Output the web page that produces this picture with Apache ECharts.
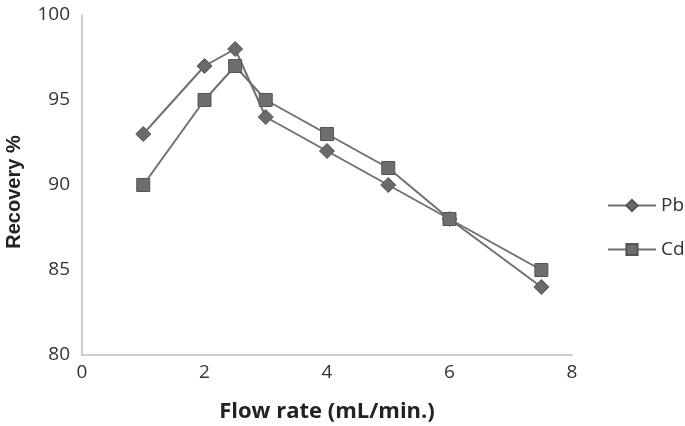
<!DOCTYPE html>
<html>
<head>
<meta charset="utf-8">
<script src="https://cdn.jsdelivr.net/npm/echarts@6/dist/echarts.min.js"></script>
<style>
  html, body { margin: 0; padding: 0; background: #fff; }
  #chart { width: 685px; height: 426px; }
</style>
</head>
<body>
<div id="chart"></div>
<script>
// flow rate (mL/min.) vs recovery %
let flowRate = [1, 2, 2.5, 3, 4, 5, 6, 7.5]
let pbRecovery = [93, 97, 98, 94, 92, 90, 88, 84]
let cdRecovery = [90, 95, 97, 95, 93, 91, 88, 85]

let toPoints = (ys) => flowRate.map((x, i) => [x, ys[i]])

let font = '"Open Sans", "Noto Sans", sans-serif'

let chart = echarts.init(document.getElementById('chart'))
chart.setOption({
  animation: false,
  textStyle: { fontFamily: font },
  grid: {
    left: 82,
    right: 113,
    top: 15,
    bottom: 71,
    containLabel: false,
    outerBoundsMode: 'none'
  },
  legend: {
    orient: 'vertical',
    left: 607,
    top: 196,
    padding: 0,
    itemGap: 25,
    itemWidth: 48,
    itemHeight: 14,
    textStyle: { fontSize: 19, color: '#333', fontFamily: font },
    data: ['Pb', 'Cd']
  },
  xAxis: {
    type: 'value',
    min: 0,
    max: 8,
    interval: 2,
    name: 'Flow rate (mL/min.)',
    nameLocation: 'middle',
    nameGap: 46,
    nameTextStyle: { fontSize: 22, fontWeight: 'bold', color: '#222', fontFamily: font },
    axisLine: { lineStyle: { color: '#bdbdbd', width: 1.5 } },
    axisTick: { show: false },
    axisLabel: { fontSize: 19, color: '#333', margin: 8 },
    splitLine: { show: false }
  },
  yAxis: {
    type: 'value',
    min: 80,
    max: 100,
    interval: 5,
    name: 'Recovery %',
    nameLocation: 'middle',
    nameGap: 58,
    nameTextStyle: {
      fontSize: 20,
      fontWeight: 'bold',
      color: '#222',
      fontFamily: '"Liberation Sans", Arial, sans-serif',
      padding: [0, 14, 0, 0]
    },
    axisLine: { show: true, lineStyle: { color: '#bdbdbd', width: 1.5 } },
    axisTick: { show: false },
    axisLabel: { fontSize: 19, color: '#333', margin: 12 },
    splitLine: { show: false }
  },
  series: [
    {
      name: 'Pb',
      type: 'line',
      data: toPoints(pbRecovery),
      symbol: 'diamond',
      symbolSize: 15,
      lineStyle: { color: '#707070', width: 2 },
      itemStyle: { color: '#6a6a6a', borderColor: '#555', borderWidth: 1 }
    },
    {
      name: 'Cd',
      type: 'line',
      data: toPoints(cdRecovery),
      symbol: 'rect',
      symbolSize: 13,
      lineStyle: { color: '#707070', width: 2 },
      itemStyle: { color: '#6e6e6e', borderColor: '#555', borderWidth: 1 }
    }
  ]
})
</script>
</body>
</html>
